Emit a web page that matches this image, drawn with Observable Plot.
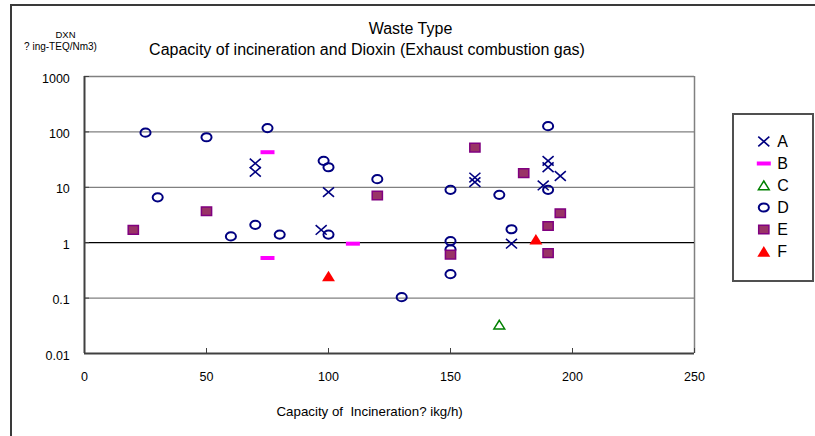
<!DOCTYPE html>
<html>
<head>
<meta charset="utf-8">
<script src="https://cdn.jsdelivr.net/npm/d3@7"></script>
<script src="https://cdn.jsdelivr.net/npm/@observablehq/plot@0.6"></script>
<style>
  body { margin: 0; background: #fff; }
  #wrap { position: relative; width: 815px; height: 436px; overflow: hidden; background: #fff;
          font-family: "Liberation Sans", Arial, sans-serif; }
  #border { position: absolute; left: 10px; top: 4px; width: 830px; height: 450px;
            border: 2px solid #3a3a3a; box-sizing: border-box; }
  #chart { position: absolute; left: 0; top: 0; }
  #legend { position: absolute; left: 732px; top: 113px; border: 2px solid #505050; background: #fff; }
  #legend svg, #chart svg { display: block; }
</style>
</head>
<body>
<div id="wrap">
  <div id="border"></div>
  <div id="chart"></div>
  <div id="legend"></div>
</div>
<script>
// ---------- data ----------
const seriesNames = ["A", "B", "C", "D", "E", "F"];

const aX = [70, 70, 100, 97, 190, 190, 195, 160, 160, 188, 175];
const aY = [27, 19, 8.2, 1.7, 30, 23, 16, 15, 12.4, 10.8, 0.96];

const bX = [75, 75, 110];
const bY = [43, 0.53, 0.96];

const cX = [170];
const cY = [0.033];

const dX = [25, 50, 75, 98, 100, 30, 60, 70, 80, 100, 190, 120, 150, 170, 190, 175, 150, 150, 150, 130];
const dY = [97, 80, 117, 30, 23, 6.6, 1.3, 2.1, 1.4, 1.4, 127, 14, 9, 7.3, 9, 1.75, 1.07, 0.76, 0.27, 0.104];

const eX = [20, 50, 160, 180, 120, 195, 190, 150, 190];
const eY = [1.7, 3.7, 52, 18, 7.1, 3.4, 2, 0.61, 0.65];

const fX = [100, 185];
const fY = [0.25, 1.15];

const xTicks = [0, 50, 100, 150, 200, 250];
const yTicks = [0.01, 0.1, 1, 10, 100, 1000];
const yTickLabels = ["0.01", "0.1", "1", "10", "100", "1000"];

const titleLine1 = "Waste Type";
const titleLine2 = "Capacity of incineration and Dioxin (Exhaust combustion gas)";
const yTitle1 = "DXN";
const yTitle2 = "? ing-TEQ/Nm3)";
const xTitle = "Capacity of  Incineration? ikg/h)";

// ---------- symbols ----------
const rad = s => Math.sqrt(s / Math.PI);
const symTimes = { draw(c, s) { const r = rad(s), w = r * 0.92, h = r * 0.8;
  c.moveTo(-w, -h); c.lineTo(w, h); c.moveTo(w, -h); c.lineTo(-w, h); } };
const symDash = { draw(c, s) { const r = rad(s), w = r * 7 / 6, h = r / 3;
  c.moveTo(-w, -h); c.lineTo(w, -h); c.lineTo(w, h); c.lineTo(-w, h); c.closePath(); } };
const symTri = { draw(c, s) { const r = rad(s), w = r * 0.9, t = r * 0.75, b = r * 0.7;
  c.moveTo(0, -t); c.lineTo(w, b); c.lineTo(-w, b); c.closePath(); } };
const symEllipse = { draw(c, s) { const r = rad(s), rx = r * 0.84, ry = r * 0.68, k = 0.5523;
  c.moveTo(rx, 0);
  c.bezierCurveTo(rx, ry * k, rx * k, ry, 0, ry);
  c.bezierCurveTo(-rx * k, ry, -rx, ry * k, -rx, 0);
  c.bezierCurveTo(-rx, -ry * k, -rx * k, -ry, 0, -ry);
  c.bezierCurveTo(rx * k, -ry, rx, -ry * k, rx, 0);
  c.closePath(); } };
const symSquare = { draw(c, s) { const r = rad(s), w = r * 0.85, h = r * 0.72;
  c.moveTo(-w, -h); c.lineTo(w, -h); c.lineTo(w, h); c.lineTo(-w, h); c.closePath(); } };
const symTriFill = { draw(c, s) { const r = rad(s), w = r * 1.08, t = r * 0.9, b = r * 0.88;
  c.moveTo(0, -t); c.lineTo(w, b); c.lineTo(-w, b); c.closePath(); } };

const styles = {
  A: { symbol: symTimes, stroke: "#000080", fill: "none", strokeWidth: 1.6 },
  B: { symbol: symDash, stroke: "none", fill: "#FF00FF", strokeWidth: 0 },
  C: { symbol: symTri, stroke: "#008000", fill: "none", strokeWidth: 1.5 },
  D: { symbol: symEllipse, stroke: "#000080", fill: "none", strokeWidth: 2 },
  E: { symbol: symSquare, stroke: "#800080", fill: "#993366", strokeWidth: 1.5 },
  F: { symbol: symTriFill, stroke: "none", fill: "#FF0000", strokeWidth: 0 }
};

const toRows = (xs, ys) => xs.map((x, i) => ({ x, y: ys[i] }));
const seriesData = {
  A: toRows(aX, aY), B: toRows(bX, bY), C: toRows(cX, cY),
  D: toRows(dX, dY), E: toRows(eX, eY), F: toRows(fX, fY)
};

// ---------- main chart ----------
const W = 815, H = 436, ML = 84, MR = 121, MT = 76, MB = 83;
const font = "'Liberation Sans', Arial, sans-serif";

const label = (txt, x, y, size, anchor) =>
  Plot.text([txt], { frameAnchor: "top-left", dx: x - ML, dy: y - MT, text: d => d,
    fontSize: size, textAnchor: anchor, lineAnchor: "bottom", fill: "black" });

const marks = [
  Plot.ruleY([100, 10, 0.1], { stroke: "#808080", strokeWidth: 1.2 }),
  Plot.ruleY([1000], { stroke: "#808080", strokeWidth: 1.5 }),
  Plot.ruleX([250], { stroke: "#808080", strokeWidth: 1.5 }),
  Plot.ruleY([1], { stroke: "#000", strokeWidth: 1.2 }),
  Plot.ruleY([0.01], { stroke: "#404040", strokeWidth: 2 }),
  Plot.ruleX([0], { stroke: "#404040", strokeWidth: 2 }),
  Plot.axisX({ ticks: xTicks, tickSize: -5, tickFormat: () => "", stroke: "#404040", label: null }),
  Plot.axisX({ ticks: xTicks, tickSize: 0, tickPadding: 18.5, fontSize: 12.5, tickFormat: d => String(d), label: null }),
  Plot.axisY({ ticks: yTicks, tickSize: -5, tickFormat: () => "", stroke: "#404040", label: null }),
  Plot.axisY({ ticks: yTicks, tickSize: 0, tickPadding: 14.7, dy: 2, fontSize: 12.5,
    tickFormat: d => yTickLabels[yTicks.indexOf(d)], label: null })
];

for (const s of seriesNames) {
  const st = styles[s];
  marks.push(Plot.dot(seriesData[s], { x: "x", y: "y", r: 6, symbol: st.symbol,
    stroke: st.stroke, fill: st.fill, strokeWidth: st.strokeWidth }));
}

marks.push(
  label(titleLine1, 410, 33.5, 16, "middle"),
  label(titleLine2, 366.5, 54, 16, "middle"),
  label(yTitle1, 65, 37.5, 9.5, "middle"),
  label(yTitle2, 60, 49, 10, "middle"),
  label(xTitle, 276, 415, 13.3, "start")
);

const chart = Plot.plot({
  width: W, height: H,
  marginLeft: ML, marginRight: MR, marginTop: MT, marginBottom: MB,
  style: { fontFamily: font, background: "transparent", overflow: "visible" },
  x: { domain: [0, 250], label: null },
  y: { type: "log", domain: [0.01, 1000], label: null },
  marks
});
document.getElementById("chart").append(chart);

// ---------- legend ----------
const legendMarks = [];
for (const s of seriesNames) {
  const st = styles[s];
  legendMarks.push(Plot.dot([s], { y: d => d, frameAnchor: "left", dx: 29.3, r: 6, symbol: st.symbol,
    stroke: st.stroke, fill: st.fill, strokeWidth: st.strokeWidth }));
}
legendMarks.push(Plot.text(seriesNames, { y: d => d, text: d => d, frameAnchor: "left", dx: 42.7,
  textAnchor: "start", fontSize: 16, fill: "black" }));

const legend = Plot.plot({
  width: 78, height: 165,
  marginLeft: 0, marginRight: 0, marginTop: 0, marginBottom: 0,
  style: { fontFamily: font, background: "#fff" },
  y: { type: "point", domain: seriesNames, range: [14.3, 147.3], axis: null },
  marks: legendMarks
});
document.getElementById("legend").append(legend);
</script>
</body>
</html>
